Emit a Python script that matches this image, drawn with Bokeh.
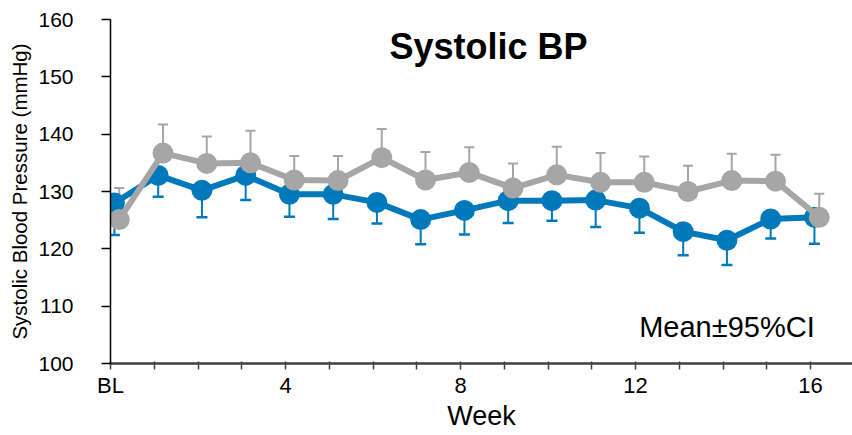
from bokeh.plotting import figure
from bokeh.models import Range1d, FixedTicker, Whisker, TeeHead, ColumnDataSource, Label
from bokeh.embed import file_html
from bokeh.resources import INLINE

# ---- data ----
weeks = list(range(17))
tick_values = [0, 4, 8, 12, 16]
tick_labels = ["BL", "4", "8", "12", "16"]
y_ticks = [100, 110, 120, 130, 140, 150, 160]

blue_mean = [128.0, 132.8, 130.2, 132.8, 129.5, 129.5, 128.1, 125.1, 126.7,
             128.4, 128.4, 128.5, 127.1, 123.0, 121.5, 125.2, 125.5]
blue_lower = [122.4, 129.1, 125.5, 128.5, 125.6, 125.2, 124.4, 120.8, 122.5,
              124.5, 124.9, 123.8, 122.8, 118.9, 117.2, 121.8, 120.9]
grey_mean = [125.1, 136.7, 134.9, 135.0, 132.0, 131.9, 135.9, 132.0, 133.3,
             130.6, 132.9, 131.6, 131.6, 130.0, 131.9, 131.8, 125.5]
grey_upper = [130.6, 141.7, 139.6, 140.6, 136.2, 136.2, 140.9, 136.9, 137.7,
              134.9, 137.8, 136.7, 136.1, 134.5, 136.6, 136.4, 129.6]

title_text = "Systolic BP"
note_text = "Mean\u00b195%CI"

BLUE = "#0079BA"
GREY = "#A6A6A6"
FONT = "Liberation Sans"

blue_off = 0.09
grey_off = 0.2

blue_src = ColumnDataSource(dict(x=[w + blue_off for w in weeks], y=blue_mean, lo=blue_lower))
grey_src = ColumnDataSource(dict(x=[w + grey_off for w in weeks], y=grey_mean, hi=grey_upper))

p = figure(width=852, height=435, output_backend="svg", toolbar_location=None,
           x_range=Range1d(0, 16.96), y_range=Range1d(100, 160),
           min_border_left=110, min_border_right=0, min_border_top=19, min_border_bottom=72)
p.outline_line_color = None
p.xgrid.grid_line_color = None
p.ygrid.grid_line_color = None
p.background_fill_color = "white"
p.border_fill_color = "white"

# error bars
p.add_layout(Whisker(source=blue_src, base="x", lower="lo", upper="y", dimension="height",
                     line_color=BLUE, line_width=2,
                     lower_head=TeeHead(size=11, line_color=BLUE, line_width=2.5),
                     upper_head=None))
p.add_layout(Whisker(source=grey_src, base="x", lower="y", upper="hi", dimension="height",
                     line_color=GREY, line_width=2,
                     upper_head=TeeHead(size=10, line_color=GREY, line_width=2),
                     lower_head=None))

# series
p.line("x", "y", source=blue_src, line_color=BLUE, line_width=6)
p.scatter("x", "y", source=blue_src, size=21, fill_color=BLUE, line_color=None)
p.line("x", "y", source=grey_src, line_color=GREY, line_width=6)
p.scatter("x", "y", source=grey_src, size=21, fill_color=GREY, line_color=None)

# axes
xa = p.xaxis[0]
xa.ticker = FixedTicker(ticks=weeks)
overrides = {w: "" for w in weeks}
for v, t in zip(tick_values, tick_labels):
    overrides[v] = t
xa.major_label_overrides = overrides
xa.minor_tick_line_color = None
xa.major_tick_in = 2
xa.major_tick_out = 6
xa.major_tick_line_color = "#404040"
xa.major_tick_line_width = 1.5
xa.axis_line_color = "#404040"
xa.axis_line_width = 2.5
xa.major_label_text_font = FONT
xa.major_label_text_font_size = "22px"
xa.major_label_text_color = "black"
xa.major_label_text_line_height = 1.0
xa.major_label_standoff = 3
xa.axis_label = "Week"
xa.axis_label_text_font = FONT
xa.axis_label_text_font_size = "27px"
xa.axis_label_text_font_style = "normal"
xa.axis_label_text_color = "black"
xa.axis_label_text_line_height = 1.0
xa.axis_label_standoff = 0

ya = p.yaxis[0]
ya.ticker = FixedTicker(ticks=y_ticks)
ya.minor_tick_line_color = None
ya.major_tick_in = 0
ya.major_tick_out = 9
ya.major_tick_line_color = "black"
ya.major_tick_line_width = 1.5
ya.axis_line_color = "black"
ya.axis_line_width = 1.5
ya.major_label_text_font = FONT
ya.major_label_text_font_size = "21px"
ya.major_label_text_color = "black"
ya.major_label_standoff = 28
ya.axis_label = "Systolic Blood Pressure (mmHg)"
ya.axis_label_text_font = FONT
ya.axis_label_text_font_size = "20.5px"
ya.axis_label_text_font_style = "normal"
ya.axis_label_text_color = "black"
ya.axis_label_standoff = 4

# title and note
p.add_layout(Label(x=8.64, y=155.3, text=title_text, text_font=FONT, text_font_size="36px",
                   text_font_style="bold", text_align="center", text_baseline="middle",
                   text_color="black"))
p.add_layout(Label(x=14.09, y=106.3, text=note_text, text_font=FONT, text_font_size="29px",
                   text_align="center", text_baseline="middle", text_color="black"))

open("out.html", "w").write(file_html(p, INLINE))
